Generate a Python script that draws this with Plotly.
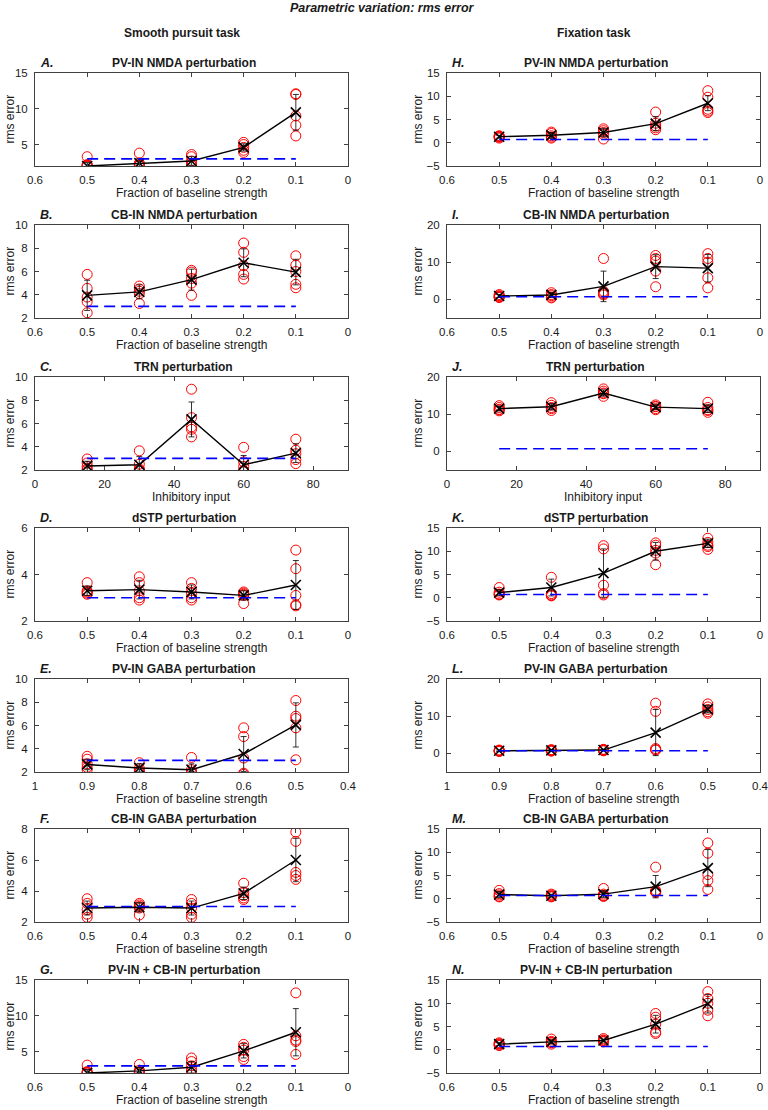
import plotly.graph_objects as go

# ---------------- data ----------------
x_frac = [0.5, 0.4, 0.3, 0.2, 0.1]
x_trn = [15, 30, 45, 60, 75]
x_gaba = [0.9, 0.8, 0.7, 0.6, 0.5]

baseline_sp = 3.0
baseline_fix = 0.7

# Smooth pursuit task
circ_A = [[3.3, 2.0, 2.05, 2.1, 2.2], [3.8, 2.4, 2.1, 2.05, 2.2], [3.6, 3.3, 2.7, 2.3, 2.1], [5.3, 5.0, 4.6, 4.2, 3.9], [12.1, 12.0, 9.0, 7.7, 6.2]]
mean_A = [2.0, 2.4, 2.7, 4.6, 9.5]
err_A = [0.5, 0.6, 0.6, 0.5, 2.5]

circ_B = [[5.75, 4.55, 3.8, 3.4, 2.45], [4.75, 4.5, 4.3, 4.1, 3.25], [6.1, 5.95, 5.4, 5.0, 3.95], [8.45, 7.65, 6.5, 5.75, 5.35], [7.35, 6.55, 6.0, 4.9, 4.6]]
mean_B = [3.95, 4.25, 5.3, 6.75, 5.95]
err_B = [1.3, 0.6, 0.9, 1.2, 1.1]

circ_C = [[2.95, 2.6, 2.3, 2.1, 2.0], [3.65, 2.5, 2.1, 2.0, 1.95], [8.95, 6.5, 5.7, 5.5, 4.85], [3.95, 2.7, 2.3, 1.95, 1.85], [4.65, 3.7, 3.4, 2.9, 2.55]]
mean_C = [2.35, 2.45, 6.35, 2.45, 3.45]
err_C = [0.4, 0.7, 1.5, 0.8, 0.8]

circ_D = [[3.65, 3.3, 3.2, 3.15, 3.25], [3.9, 3.65, 3.3, 3.0, 2.9], [3.65, 3.4, 3.2, 3.0, 2.9], [3.25, 3.2, 3.15, 3.1, 2.75], [5.05, 4.25, 3.1, 2.65, 2.7]]
mean_D = [3.3, 3.35, 3.25, 3.1, 3.55]
err_D = [0.2, 0.4, 0.3, 0.2, 1.05]

circ_E = [[3.35, 3.1, 2.7, 2.4, 2.2], [2.8, 2.3, 2.1, 2.0, 1.95], [3.25, 2.2, 2.0, 1.95, 1.9], [5.8, 5.05, 3.2, 1.9, 1.8], [8.15, 6.8, 6.6, 5.8, 3.05]]
mean_E = [2.65, 2.35, 2.2, 3.55, 6.05]
err_E = [0.45, 0.35, 0.5, 1.5, 1.9]

circ_F = [[3.5, 3.2, 2.8, 2.5, 2.3], [3.2, 3.1, 3.0, 2.9, 2.45], [3.45, 3.2, 2.9, 2.5, 2.3], [4.5, 3.9, 3.7, 3.55, 3.45], [7.8, 7.2, 5.2, 5.0, 4.75]]
mean_F = [2.9, 2.95, 2.9, 3.85, 6.0]
err_F = [0.45, 0.3, 0.45, 0.4, 1.4]

circ_G = [[3.1, 2.2, 2.1, 2.0, 2.05], [3.2, 2.4, 2.1, 2.2, 2.05], [4.1, 3.6, 3.0, 2.5, 2.2], [6.0, 5.6, 5.2, 4.3, 3.9], [13.2, 7.2, 6.6, 6.4, 4.6]]
mean_G = [2.0, 2.3, 2.8, 5.1, 7.7]
err_G = [0.5, 0.5, 0.8, 1.0, 3.3]

# Fixation task
circ_H = [[1.5, 1.2, 1.0, 1.4, 1.3], [2.3, 2.0, 1.5, 1.0, 1.2], [3.0, 2.6, 2.2, 1.8, 0.8], [6.6, 4.2, 3.6, 3.2, 2.8], [11.2, 9.8, 7.2, 6.8, 6.5]]
mean_H = [1.3, 1.6, 2.2, 4.1, 8.5]
err_H = [0.3, 0.6, 0.9, 1.5, 1.6]

circ_I = [[1.3, 1.0, 0.8, 0.6, 0.5], [1.8, 1.3, 1.0, 0.6, 0.4], [11.0, 2.2, 1.7, 1.5, 1.2], [11.8, 11.0, 10.3, 7.6, 3.4], [12.3, 11.0, 10.0, 5.8, 3.1]]
mean_I = [0.9, 1.2, 3.5, 8.8, 8.4]
err_I = [0.4, 0.6, 4.1, 3.2, 3.7]

circ_J = [[12.3, 11.8, 11.2, 10.9, 11.3], [13.1, 12.4, 11.8, 11.0, 11.5], [16.8, 16.2, 15.5, 14.8, 15.7], [12.5, 12.0, 11.5, 11.2, 12.1], [13.2, 11.8, 11.0, 10.5, 11.2]]
mean_J = [11.5, 12.0, 15.7, 11.9, 11.5]
err_J = [0.6, 0.8, 0.8, 0.6, 1.0]

circ_K = [[2.2, 1.2, 0.8, 0.6, 0.7], [4.4, 0.9, 0.6, 0.5, 0.4], [11.2, 10.5, 2.7, 0.9, 0.6], [11.8, 11.3, 10.2, 9.6, 7.1], [12.8, 11.9, 11.3, 11.0, 10.4]]
mean_K = [1.1, 2.2, 5.3, 10.0, 11.7]
err_K = [0.6, 1.8, 5.2, 1.9, 0.9]

circ_L = [[0.9, 0.7, 0.6, 0.5, 0.8], [1.0, 0.8, 0.6, 0.9, 0.7], [1.1, 0.9, 0.7, 0.8, 1.0], [13.5, 11.3, 1.3, 1.0, 0.9], [13.3, 12.5, 11.8, 11.2, 10.8]]
mean_L = [0.7, 0.8, 0.9, 5.6, 11.9]
err_L = [0.2, 0.2, 0.2, 6.2, 1.0]

circ_M = [[1.8, 1.1, 0.8, 0.5, 0.4], [1.0, 0.8, 0.6, 0.5, 0.4], [2.2, 1.0, 0.7, 0.5, 0.6], [6.8, 1.8, 1.4, 1.5, 1.5], [12.0, 9.8, 5.2, 3.9, 2.0]]
mean_M = [0.9, 0.65, 1.0, 2.6, 6.6]
err_M = [0.6, 0.3, 0.7, 2.4, 4.0]

circ_N = [[1.5, 1.2, 1.0, 1.3, 0.9], [2.3, 1.8, 1.5, 1.2, 1.6], [2.4, 2.1, 1.8, 2.0, 1.7], [7.8, 7.0, 5.5, 3.8, 3.5], [12.5, 11.0, 10.0, 8.5, 7.3]]
mean_N = [1.2, 1.7, 2.0, 5.5, 9.9]
err_N = [0.3, 0.4, 0.3, 1.9, 2.0]

titles_left = ["PV-IN NMDA perturbation", "CB-IN NMDA perturbation", "TRN perturbation", "dSTP perturbation",
               "PV-IN GABA perturbation", "CB-IN GABA perturbation", "PV-IN + CB-IN perturbation"]
titles_right = titles_left
letters_left = ["A.", "B.", "C.", "D.", "E.", "F.", "G."]
letters_right = ["H.", "I.", "J.", "K.", "L.", "M.", "N."]
xlabels = ["Fraction of baseline strength", "Fraction of baseline strength", "Inhibitory input",
           "Fraction of baseline strength", "Fraction of baseline strength", "Fraction of baseline strength",
           "Fraction of baseline strength"]

frac_ticks = [0.6, 0.5, 0.4, 0.3, 0.2, 0.1, 0]
frac_text = ["0.6", "0.5", "0.4", "0.3", "0.2", "0.1", "0"]
gaba_ticks = [1, 0.9, 0.8, 0.7, 0.6, 0.5, 0.4]
gaba_text = ["1", "0.9", "0.8", "0.7", "0.6", "0.5", "0.4"]
trn_ticks = [0, 20, 40, 60, 80]
trn_text = ["0", "20", "40", "60", "80"]
xspec = [
    (x_frac, [0.6, 0], frac_ticks, frac_text),
    (x_frac, [0.6, 0], frac_ticks, frac_text),
    (x_trn, [0, 90], trn_ticks, trn_text),
    (x_frac, [0.6, 0], frac_ticks, frac_text),
    (x_gaba, [1, 0.4], gaba_ticks, gaba_text),
    (x_frac, [0.6, 0], frac_ticks, frac_text),
    (x_frac, [0.6, 0], frac_ticks, frac_text),
]

left_panels = [
    (circ_A, mean_A, err_A, [2, 15], [5, 10, 15]),
    (circ_B, mean_B, err_B, [2, 10], [2, 4, 6, 8, 10]),
    (circ_C, mean_C, err_C, [2, 10], [2, 4, 6, 8, 10]),
    (circ_D, mean_D, err_D, [2, 6], [2, 4, 6]),
    (circ_E, mean_E, err_E, [2, 10], [2, 4, 6, 8, 10]),
    (circ_F, mean_F, err_F, [2, 8], [2, 4, 6, 8]),
    (circ_G, mean_G, err_G, [2, 15], [5, 10, 15]),
]
right_panels = [
    (circ_H, mean_H, err_H, [-5, 15], [-5, 0, 5, 10, 15]),
    (circ_I, mean_I, err_I, [-5, 20], [0, 10, 20]),
    (circ_J, mean_J, err_J, [-5, 20], [0, 10, 20]),
    (circ_K, mean_K, err_K, [-5, 15], [-5, 0, 5, 10, 15]),
    (circ_L, mean_L, err_L, [-5, 20], [0, 10, 20]),
    (circ_M, mean_M, err_M, [-5, 15], [-5, 0, 5, 10, 15]),
    (circ_N, mean_N, err_N, [-5, 15], [-5, 0, 5, 10, 15]),
]

# ---------------- layout geometry (pixels) ----------------
W, H = 768, 1110
col_x = [(35, 348), (447, 760)]
row_tops = [73, 225, 377, 528, 679, 829, 980]
row_h = 93

FONT = "Liberation Sans, Arial, sans-serif"
AXC = "#404040"
TXT = "#1a1a1a"

fig = go.Figure()
annotations = []
layout_axes = {}


def px_x(p):
    return p / W


def px_y(p):
    return 1 - p / H


n = 0
for col, (panels, titles, letters, baseline) in enumerate([
        (left_panels, titles_left, letters_left, baseline_sp),
        (right_panels, titles_right, letters_right, baseline_fix)]):
    x0, x1 = col_x[col]
    for row in range(7):
        n += 1
        circ, mean, err, yr, yt = panels[row]
        xv, xr, xtv, xtt = xspec[row]
        xa = "x" if n == 1 else f"x{n}"
        ya = "y" if n == 1 else f"y{n}"
        top = row_tops[row]
        bot = top + row_h

        cx, cy = [], []
        for xi, vals in zip(xv, circ):
            for v in vals:
                cx.append(xi)
                cy.append(v)
        fig.add_trace(go.Scatter(x=cx, y=cy, mode="markers", xaxis=xa, yaxis=ya,
                                 marker=dict(symbol="circle-open", size=10, color="red",
                                             line=dict(width=1, color="red")),
                                 showlegend=False, hoverinfo="skip"))
        fig.add_trace(go.Scatter(x=xv, y=mean, mode="lines+markers", xaxis=xa, yaxis=ya,
                                 line=dict(color="black", width=1.4),
                                 marker=dict(symbol="x-thin", size=10, color="black",
                                             line=dict(width=1.6, color="black")),
                                 error_y=dict(type="data", array=err, color="black",
                                              thickness=0.8, width=3),
                                 showlegend=False, hoverinfo="skip"))
        fig.add_trace(go.Scatter(x=[xv[0], xv[-1]], y=[baseline, baseline], mode="lines",
                                 xaxis=xa, yaxis=ya,
                                 line=dict(color="blue", width=1.6, dash="11px,6px"),
                                 showlegend=False, hoverinfo="skip"))

        axkey = "xaxis" if n == 1 else f"xaxis{n}"
        aykey = "yaxis" if n == 1 else f"yaxis{n}"
        layout_axes[axkey] = dict(domain=[px_x(x0), px_x(x1)], anchor=ya, range=xr,
                                  tickvals=xtv, ticktext=xtt, ticks="inside", ticklen=4,
                                  tickcolor=AXC, showline=True, linecolor=AXC, linewidth=1,
                                  mirror="ticks", showgrid=False, zeroline=False,
                                  automargin=False, ticklabeloverflow="allow",
                                  tickfont=dict(family=FONT, size=11.5, color=TXT),
                                  ticklabelstandoff=3)
        layout_axes[aykey] = dict(domain=[px_y(bot), px_y(top)], anchor=xa, range=yr,
                                  tickvals=yt, ticks="inside", ticklen=4,
                                  tickcolor=AXC, showline=True, linecolor=AXC, linewidth=1,
                                  mirror="ticks", showgrid=False, zeroline=False,
                                  automargin=False, ticklabeloverflow="allow",
                                  tickfont=dict(family=FONT, size=11.5, color=TXT),
                                  ticklabelstandoff=4)

        cxm = (x0 + x1) / 2
        annotations.append(dict(text="<b>" + titles[row] + "</b>", x=px_x(cxm - 8), y=px_y(top - 10),
                                xref="paper", yref="paper", showarrow=False, xanchor="center",
                                yanchor="middle", font=dict(family=FONT, size=12, color=TXT)))
        annotations.append(dict(text="<b><i>" + letters[row] + "</i></b>", x=px_x(x0 + 3),
                                y=px_y(top - 10), xref="paper", yref="paper", showarrow=False,
                                xanchor="left", yanchor="middle",
                                font=dict(family=FONT, size=12.5, color=TXT)))
        annotations.append(dict(text=xlabels[row], x=px_x(cxm), y=px_y(bot + 27),
                                xref="paper", yref="paper", showarrow=False, xanchor="center",
                                yanchor="middle", font=dict(family=FONT, size=12, color=TXT)))
        annotations.append(dict(text="rms error", x=px_x(x0 - 26 if col == 0 else x0 - 30),
                                y=px_y((top + bot) / 2), xref="paper", yref="paper",
                                showarrow=False, xanchor="center", yanchor="middle", textangle=-90,
                                font=dict(family=FONT, size=12, color=TXT)))

annotations.append(dict(text="<b><i>Parametric variation: rms error</i></b>", x=px_x(382), y=px_y(8),
                        xref="paper", yref="paper", showarrow=False, xanchor="center", yanchor="middle",
                        font=dict(family=FONT, size=12.5, color=TXT)))
annotations.append(dict(text="<b>Smooth pursuit task</b>", x=px_x(182), y=px_y(33),
                        xref="paper", yref="paper", showarrow=False, xanchor="center", yanchor="middle",
                        font=dict(family=FONT, size=12, color=TXT)))
annotations.append(dict(text="<b>Fixation task</b>", x=px_x(594), y=px_y(33),
                        xref="paper", yref="paper", showarrow=False, xanchor="center", yanchor="middle",
                        font=dict(family=FONT, size=12, color=TXT)))

fig.update_layout(width=W, height=H, margin=dict(l=0, r=0, t=0, b=0, autoexpand=False),
                  paper_bgcolor="white", plot_bgcolor="white",
                  annotations=annotations, **layout_axes)

fig.write_html("out.html", config={"displayModeBar": False},
               post_script="document.body.style.margin='0';document.body.style.overflow='hidden';")
